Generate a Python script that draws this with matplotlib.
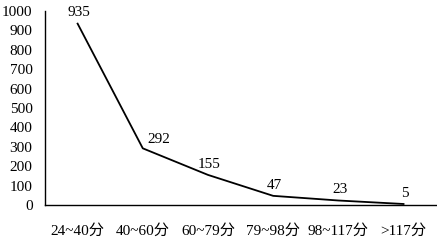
import matplotlib
matplotlib.use("Agg")
import matplotlib.pyplot as plt

categories = ["24~40分", "40~60分", "60~79分", "79~98分", "98~117分", ">117分"]
counts = [935, 292, 155, 47, 23, 5]
yticks = [0, 100, 200, 300, 400, 500, 600, 700, 800, 900, 1000]

plt.rcParams["font.family"] = ["Liberation Serif", "Noto Sans CJK SC"]
plt.rcParams["font.size"] = 11

fig = plt.figure(figsize=(4.37, 2.4), dpi=100)
ax = fig.add_axes([0.103, 0.146, 0.895, 0.808])
x = [i + 0.5 for i in range(len(categories))]
ax.plot(x, counts, color="black", lw=1.3)

for i, (xi, v) in enumerate(zip(x, counts)):
    if i == 1:
        ax.annotate(str(v), (xi, v), xytext=(3, 2), textcoords="offset points",
                    ha="left", va="bottom")
    else:
        ax.annotate(str(v), (xi, v), xytext=(1, 3), textcoords="offset points",
                    ha="center", va="bottom")

ax.set_xlim(0, 6)
ax.set_ylim(0, 1000)
ax.set_xticks(x)
ax.set_xticklabels(categories)
ax.set_yticks(yticks)
ax.tick_params(length=0)
ax.tick_params(axis="x", pad=14)
ax.tick_params(axis="y", pad=9)
for s in ["top", "right"]:
    ax.spines[s].set_visible(False)
for s in ["left", "bottom"]:
    ax.spines[s].set_linewidth(1.0)

fig.savefig("out.png", dpi=100)
